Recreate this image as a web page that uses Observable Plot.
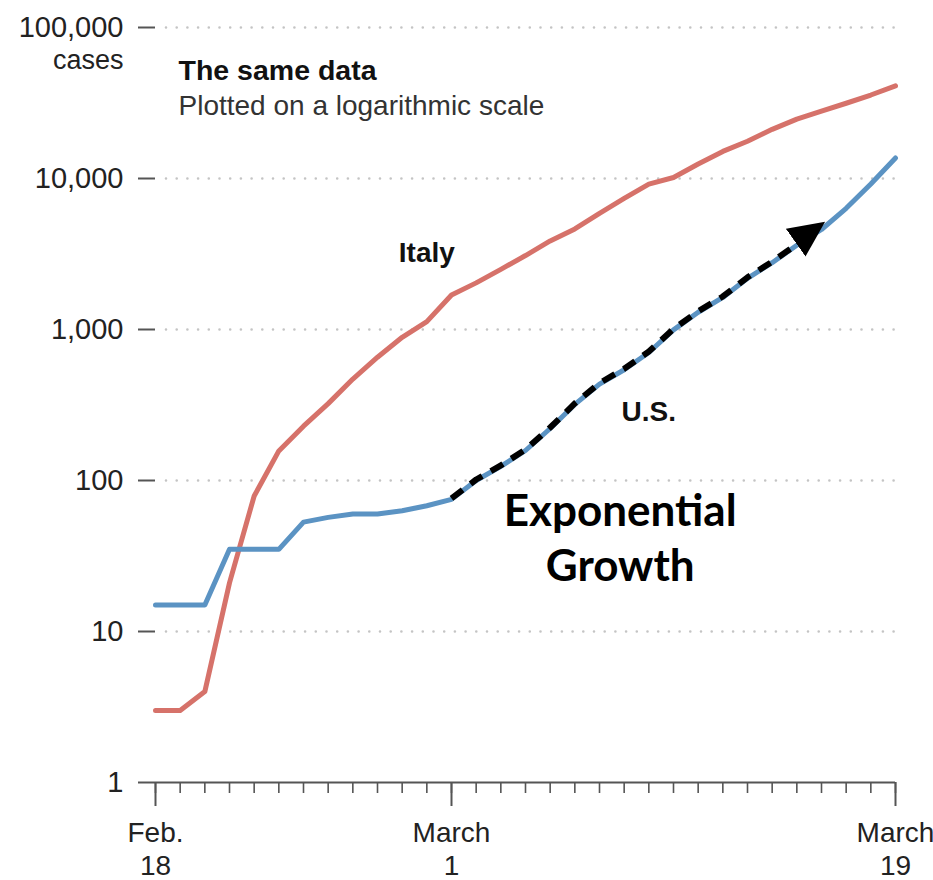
<!DOCTYPE html>
<html>
<head>
<meta charset="utf-8">
<script src="https://cdn.jsdelivr.net/npm/d3@7"></script>
<script src="https://cdn.jsdelivr.net/npm/@observablehq/plot@0.6"></script>
<style>
  body { margin: 0; background: #fff; }
  #chart svg { display: block; }
</style>
</head>
<body>
<div id="chart"></div>
<script>
// ---- data ----
const dates = [
  "2020-02-18","2020-02-19","2020-02-20","2020-02-21","2020-02-22","2020-02-23",
  "2020-02-24","2020-02-25","2020-02-26","2020-02-27","2020-02-28","2020-02-29",
  "2020-03-01","2020-03-02","2020-03-03","2020-03-04","2020-03-05","2020-03-06",
  "2020-03-07","2020-03-08","2020-03-09","2020-03-10","2020-03-11","2020-03-12",
  "2020-03-13","2020-03-14","2020-03-15","2020-03-16","2020-03-17","2020-03-18",
  "2020-03-19"
];
const italyCases = [
  3, 3, 4, 21, 79, 157, 229, 323, 470, 655, 888, 1128,
  1694, 2036, 2502, 3089, 3858, 4636, 5883, 7375, 9172, 10149,
  12462, 15113, 17660, 21157, 24747, 27980, 31506, 35713, 41035
];
const usCases = [
  15, 15, 15, 35, 35, 35, 53, 57, 60, 60, 63, 68,
  75, 100, 124, 158, 221, 319, 435, 541, 704, 994,
  1301, 1630, 2183, 2770, 3613, 4596, 6344, 9197, 13677
];
const yTicks = [1, 10, 100, 1000, 10000, 100000];
const xMajorTicks = ["2020-02-18", "2020-03-01", "2020-03-19"];
const xMajorLabels = ["Feb.\n18", "March\n1", "March\n19"];
const arrowRange = ["2020-03-01", "2020-03-15"];
const titleText = "The same data";
const subtitleText = "Plotted on a logarithmic scale";
const yUnit = "cases";
const seriesLabels = [
  {text: "Italy", date: "2020-02-29", cases: 3200},
  {text: "U.S.", date: "2020-03-09", cases: 285}
];
const growthLabel = {text: "Exponential\nGrowth", date: "2020-03-08", cases: 43};

// ---- build ----
const parse = s => new Date(s + "T00:00:00Z");
const italy = dates.map((d, i) => ({date: parse(d), cases: italyCases[i]}));
const us = dates.map((d, i) => ({date: parse(d), cases: usCases[i]}));
const a0 = +parse(arrowRange[0]), a1 = +parse(arrowRange[1]);
const arrowData = us.filter(d => +d.date >= a0 && +d.date <= a1);
const dayTicks = dates.map(parse);
const majorTicks = xMajorTicks.map(parse);
const majorLabelMap = new Map(majorTicks.map((d, i) => [+d, xMajorLabels[i]]));
const labels = seriesLabels.map(d => ({...d, date: parse(d.date)}));

const red = "#d6726a";
const blue = "#5b93c3";
const axisColor = "#555";
const fontFamily = "'Liberation Sans', Arial, sans-serif";

const chart = Plot.plot({
  width: 933,
  height: 880,
  marginLeft: 155,
  marginRight: 38,
  marginTop: 27,
  marginBottom: 98,
  style: {fontFamily, fontSize: "28px", color: "#222", background: "#fff"},
  x: {type: "utc", domain: [dayTicks[0], dayTicks[dayTicks.length - 1]]},
  y: {type: "log", domain: [1, 100000]},
  marks: [
    // dotted grid
    Plot.ruleY(yTicks.slice(1), {
      stroke: "#c4c4c4", strokeWidth: 2.6, strokeDasharray: "0,10.7",
      strokeLinecap: "round", insetLeft: 11
    }),
    // baseline
    Plot.ruleY([1], {stroke: axisColor, strokeWidth: 2}),
    // y axis
    Plot.axisY(yTicks, {
      tickSize: 17, tickPadding: 15, tickFormat: d3.format(","),
      stroke: axisColor, strokeWidth: 2, fill: "#222", fontSize: 29, label: null
    }),
    Plot.text([yUnit], {
      frameAnchor: "left", y: () => 100000, text: d => d,
      dx: -32, dy: 33, textAnchor: "end", fontSize: 27, fill: "#222"
    }),
    // x axis: daily minor ticks
    Plot.axisX(dayTicks, {
      tickSize: 11, tickFormat: () => "", stroke: axisColor, strokeWidth: 1.6, label: null
    }),
    // x axis: major ticks with labels
    Plot.axisX(majorTicks, {
      tickSize: 24, tickPadding: 12, tickFormat: d => majorLabelMap.get(+d),
      stroke: axisColor, strokeWidth: 2, fill: "#222", fontSize: 28, lineHeight: 1.18, label: null
    }),
    // series
    Plot.line(italy, {x: "date", y: "cases", stroke: red, strokeWidth: 5}),
    Plot.line(us, {x: "date", y: "cases", stroke: blue, strokeWidth: 5}),
    // dashed arrow along US growth
    Plot.line(arrowData, {
      x: "date", y: "cases", stroke: "#000", strokeWidth: 6,
      strokeDasharray: "14,10", strokeLinecap: "butt", dy: -1
    }),
    // title / subtitle
    Plot.text([titleText], {
      frameAnchor: "top-left", text: d => d, dx: 23, dy: 32, lineAnchor: "top",
      fontWeight: "bold", fontSize: 28.5, fill: "#111"
    }),
    Plot.text([subtitleText], {
      frameAnchor: "top-left", text: d => d, dx: 23, dy: 68, lineAnchor: "top",
      fontSize: 28, fill: "#333"
    }),
    // series labels
    Plot.text(labels, {
      x: "date", y: "cases", text: "text", fontWeight: "bold", fontSize: 28, fill: "#111"
    }),
    Plot.text([growthLabel], {
      x: d => parse(d.date), y: "cases", text: "text", dx: -4,
      fontFamily: "Lato, 'Open Sans', sans-serif", fontWeight: "bold",
      fontSize: 44, lineHeight: 1.25, fill: "#000"
    })
  ]
});

// filled arrowhead at the end of the dashed arrow line
const ns = "http://www.w3.org/2000/svg";
const defs = document.createElementNS(ns, "defs");
const marker = document.createElementNS(ns, "marker");
marker.setAttribute("id", "arrowhead");
marker.setAttribute("markerUnits", "userSpaceOnUse");
marker.setAttribute("viewBox", "0 -18 38 36");
marker.setAttribute("markerWidth", "38");
marker.setAttribute("markerHeight", "36");
marker.setAttribute("refX", "0");
marker.setAttribute("refY", "2");
marker.setAttribute("orient", "auto");
const mpath = document.createElementNS(ns, "path");
mpath.setAttribute("d", "M0,-17L36,0L0,17Z");
mpath.setAttribute("fill", "#000");
mpath.setAttribute("stroke", "none");
marker.appendChild(mpath);
defs.appendChild(marker);
chart.insertBefore(defs, chart.firstChild);
chart.querySelectorAll('g[stroke="#000"] path').forEach(p => p.setAttribute("marker-end", "url(#arrowhead)"));

document.getElementById("chart").appendChild(chart);
</script>
</body>
</html>
